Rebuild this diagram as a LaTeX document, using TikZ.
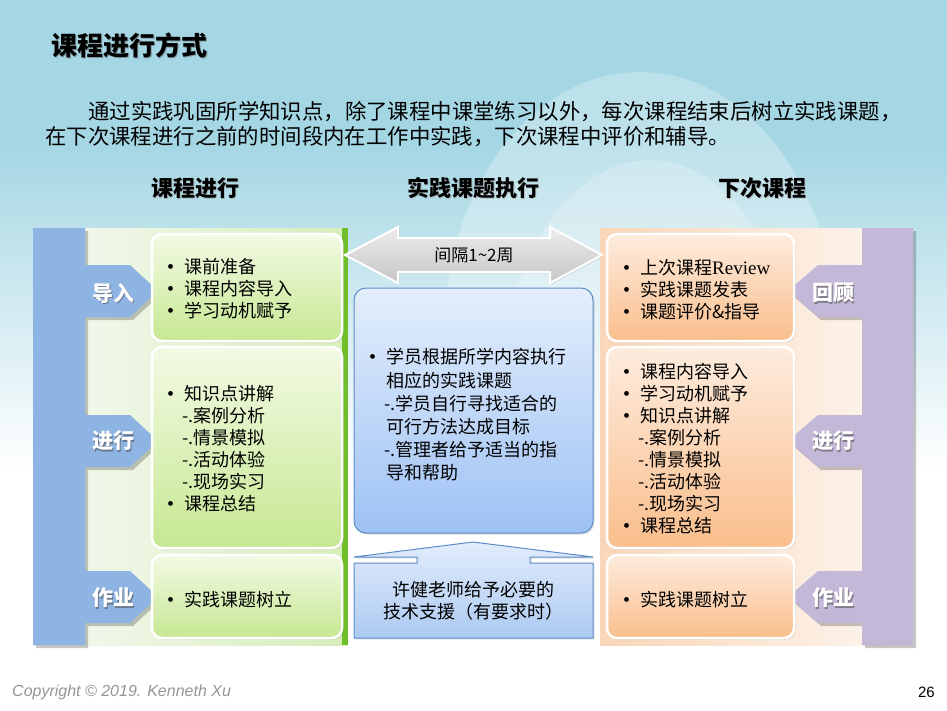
\documentclass[tikz,border=0pt]{standalone}
\usepackage{fontspec}
\setmainfont{Liberation Serif}
\newfontfamily\cjk{Noto Sans CJK SC}
\newfontfamily\lat{Liberation Serif}
\newfontfamily\footfont{Liberation Sans}
\usetikzlibrary{shadows}
\definecolor{bgblue}{RGB}{164,214,227}
\definecolor{bluebar}{RGB}{142,180,227}
\definecolor{purplebar}{RGB}{195,184,215}
\definecolor{gstrip}{RGB}{112,190,42}
\definecolor{gtop}{RGB}{243,250,228}
\definecolor{gbot}{RGB}{198,232,146}
\definecolor{otop}{RGB}{253,236,222}
\definecolor{obot}{RGB}{250,190,140}
\definecolor{mtop}{RGB}{228,238,252}
\definecolor{mbot}{RGB}{158,194,244}
\definecolor{mline}{RGB}{92,140,200}
\definecolor{footgray}{RGB}{150,150,150}
\newcommand\mybul{\makebox[17pt][l]{{\lat\fontsize{20}{22}\selectfont •}}}
\newcommand\mysub{\hspace{15pt}}
\newcommand\myind{\hspace{17pt}}
\tikzset{
  boxbase/.style={rounded corners=10pt, draw=white, line width=2.5pt, inner sep=0pt,
    drop shadow={opacity=0.25, shadow xshift=1.5pt, shadow yshift=-1.5pt}},
  greenbox/.style={boxbase, top color=gtop, bottom color=gbot, minimum width=190pt},
  orangebox/.style={boxbase, top color=otop, bottom color=obot, minimum width=187pt},
  txt/.style={font=\cjk\fontsize{18}{22}\selectfont, align=left, anchor=west, inner sep=0pt, text=black},
  lab/.style={font=\cjk\bfseries\fontsize{21}{24}\selectfont, text=white, inner sep=0pt},
  labsh/.style={lab, text=black!70, opacity=0.55},
  head/.style={font=\cjk\bfseries\fontsize{22}{26}\selectfont, text=black, inner sep=0pt},
  headsh/.style={head, text=black!40, opacity=0.5},
}
\begin{document}
\begin{tikzpicture}[x=1pt,y=-1pt]
\useasboundingbox (0,0) rectangle (947,710);
% background
\fill[white] (0,0) rectangle (947,710);
\fill[bgblue] (0,0) rectangle (947,140);
\shade[top color=bgblue, bottom color=white] (0,140) rectangle (947,470);
\fill[white, opacity=0.28] (640,330) ellipse [x radius=195, y radius=258];
\fill[white, opacity=0.22] (650,400) ellipse [x radius=150, y radius=240];
% title
\node[head, font=\cjk\bfseries\fontsize{26}{28}\selectfont, text=black!60, opacity=0.6, anchor=west, xshift=1.2pt, yshift=-1.2pt] at (51,45) {课程进行方式};
\node[head, font=\cjk\bfseries\fontsize{26}{28}\selectfont, anchor=west] (title) at (51,45) {课程进行方式};
% paragraph
\node[txt, font=\cjk\fontsize{21.4}{26}\selectfont] (p1) at (88,112) {通过实践巩固所学知识点，除了课程中课堂练习以外，每次课程结束后树立实践课题，};
\node[txt, font=\cjk\fontsize{21.4}{26}\selectfont] (p2) at (45,137) {在下次课程进行之前的时间段内在工作中实践，下次课程中评价和辅导。};
% headers
\node[headsh, xshift=1.2pt, yshift=-1.2pt] at (195,188) {课程进行};
\node[head] (h1) at (195,188) {课程进行};
\node[headsh, xshift=1.2pt, yshift=-1.2pt] at (473,188) {实践课题执行};
\node[head] (h2) at (473,188) {实践课题执行};
\node[headsh, xshift=1.2pt, yshift=-1.2pt] at (762,188) {下次课程};
\node[head] (h3) at (762,188) {下次课程};
% left panel background
\shade[left color={rgb,255:red,246;green,249;blue,244}, right color={rgb,255:red,214;green,237;blue,186}] (33,228) rectangle (347,645);
\fill[gstrip] (342,228) rectangle (348,645);
% right panel background
\shade[left color={rgb,255:red,249;green,214;blue,184}, right color={rgb,255:red,253;green,247;blue,242}] (600,228) rectangle (913,645);
% blue bar with tabs (shadow + shape)
\fill[black, opacity=0.22] (36,231) -- (88,231) -- (88,268) -- (133,268) -- (161,294) -- (133,320) -- (88,320) -- (88,418) -- (133,418) -- (161,444) -- (133,470) -- (88,470) -- (88,574) -- (133,574) -- (161,600) -- (133,626) -- (88,626) -- (88,648) -- (36,648) -- cycle;
\fill[bluebar] (33,228) -- (85,228) -- (85,265) -- (130,265) -- (158,291) -- (130,317) -- (85,317) -- (85,415) -- (130,415) -- (158,441) -- (130,467) -- (85,467) -- (85,571) -- (130,571) -- (158,597) -- (130,623) -- (85,623) -- (85,645) -- (33,645) -- cycle;
% purple bar with tabs
\fill[black, opacity=0.22] (916,231) -- (865,231) -- (865,268) -- (821,268) -- (791,294) -- (821,320) -- (865,320) -- (865,418) -- (821,418) -- (791,444) -- (821,470) -- (865,470) -- (865,574) -- (821,574) -- (791,600) -- (821,626) -- (865,626) -- (865,648) -- (916,648) -- cycle;
\fill[purplebar] (913,228) -- (862,228) -- (862,265) -- (818,265) -- (788,291) -- (818,317) -- (862,317) -- (862,415) -- (818,415) -- (788,441) -- (818,467) -- (862,467) -- (862,571) -- (818,571) -- (788,597) -- (818,623) -- (862,623) -- (862,645) -- (913,645) -- cycle;
% left boxes
\node[greenbox, minimum height=107pt] (lb1) at (247,287.5) {};
\node[greenbox, minimum height=201pt] (lb2) at (247,447.5) {};
\node[greenbox, minimum height=83pt] (lb3) at (247,596.5) {};
% right boxes
\node[orangebox, minimum height=107pt] (rb1) at (700.5,287.5) {};
\node[orangebox, minimum height=201pt] (rb2) at (700.5,447.5) {};
\node[orangebox, minimum height=83pt] (rb3) at (700.5,596.5) {};
% gray double arrow
\shade[top color={rgb,255:red,236;green,236;blue,236}, bottom color={rgb,255:red,198;green,198;blue,198}, draw=white, line width=2pt, drop shadow={opacity=0.2, shadow xshift=1.5pt, shadow yshift=-1.5pt}]
  (345,255) -- (398,227) -- (398,238) -- (550,238) -- (550,227) -- (602,255) -- (550,283) -- (550,272) -- (398,272) -- (398,283) -- cycle;
\node[font=\cjk\fontsize{17}{20}\selectfont, inner sep=0pt] (gap) at (474,255) {间隔1\textasciitilde 2周};
% middle box
\node[rounded corners=12pt, draw=mline, line width=1pt, top color=mtop, bottom color=mbot, minimum width=239pt, minimum height=245pt, inner sep=0pt, drop shadow={opacity=0.25, shadow xshift=1.5pt, shadow yshift=-1.5pt}] (mid) at (473.5,410.5) {};
% up arrow callout
\shade[top color={rgb,255:red,226;green,236;blue,252}, bottom color={rgb,255:red,172;green,202;blue,242}, draw=mline, line width=1pt, drop shadow={opacity=0.2, shadow xshift=1.5pt, shadow yshift=-1.5pt}]
  (354,638) -- (354,563) -- (417,563) -- (417,557) -- (354,557) -- (473,542) -- (593,557) -- (530,557) -- (530,563) -- (593,563) -- (593,638) -- cycle;
% labels
\node[labsh, xshift=1.5pt, yshift=-1.5pt] at (113,293) {导入};
\node[lab] (l1) at (113,293) {导入};
\node[labsh, xshift=1.5pt, yshift=-1.5pt] at (113,441) {进行};
\node[lab] (l2) at (113,441) {进行};
\node[labsh, xshift=1.5pt, yshift=-1.5pt] at (113,598) {作业};
\node[lab] (l3) at (113,598) {作业};
\node[labsh, xshift=1.5pt, yshift=-1.5pt] at (833,293) {回顾};
\node[lab] (r1) at (833,293) {回顾};
\node[labsh, xshift=1.5pt, yshift=-1.5pt] at (833,441) {进行};
\node[lab] (r2) at (833,441) {进行};
\node[labsh, xshift=1.5pt, yshift=-1.5pt] at (833,598) {作业};
\node[lab] (r3) at (833,598) {作业};
% left texts
\node[txt] (lt1) at (167,289) {\mybul 课前准备\\ \mybul 课程内容导入\\ \mybul 学习动机赋予};
\node[txt] (lt2) at (167,448.5) {\mybul 知识点讲解\\ \mysub -.案例分析\\ \mysub -.情景模拟\\ \mysub -.活动体验\\ \mysub -.现场实习\\ \mybul 课程总结};
\node[txt] (lt3) at (167,600) {\mybul 实践课题树立};
% middle texts
\node[txt, font=\cjk\fontsize{18}{23.2}\selectfont] (mt) at (369,415) {\mybul 学员根据所学内容执行\\ \myind 相应的实践课题\\ \mysub -.学员自行寻找适合的\\ \myind 可行方法达成目标\\ \mysub -.管理者给予适当的指\\ \myind 导和帮助};
\node[font=\cjk\fontsize{18}{22}\selectfont, align=center, inner sep=0pt] (mb) at (473.5,601) {许健老师给予必要的\\技术支援（有要求时）};
% right texts
\node[txt] (rt1) at (623,289.5) {\mybul 上次课程{\lat\fontsize{19}{22}\selectfont Review}\\ \mybul 实践课题发表\\ \mybul 课题评价\&指导};
\node[txt] (rt2) at (623,448.5) {\mybul 课程内容导入\\ \mybul 学习动机赋予\\ \mybul 知识点讲解\\ \mysub -.案例分析\\ \mysub -.情景模拟\\ \mysub -.活动体验\\ \mysub -.现场实习\\ \mybul 课程总结};
\node[txt] (rt3) at (623,600) {\mybul 实践课题树立};
% footer
\node[anchor=west, inner sep=0pt, text=footgray, font=\footfont\itshape\fontsize{16}{18}\selectfont] (copy) at (12,692) {Copyright © 2019. Kenneth Xu};
\node[anchor=east, inner sep=0pt, font=\footfont\fontsize{15}{18}\selectfont] (pg) at (935,692) {26};
\end{tikzpicture}
\end{document}
